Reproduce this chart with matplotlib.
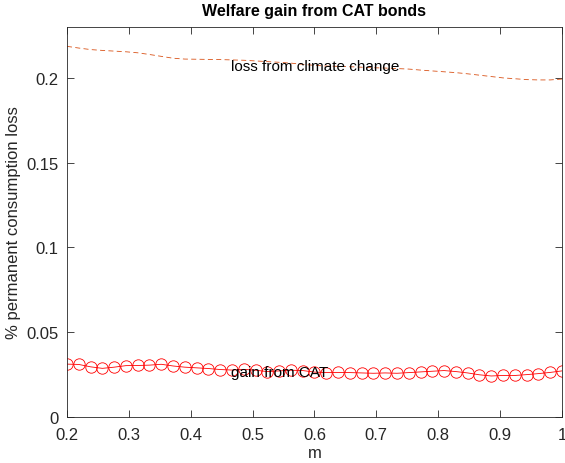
import numpy as np
import matplotlib.pyplot as plt

plt.rcParams['font.family'] = ['Liberation Sans', 'DejaVu Sans']

m = np.linspace(0.2, 1.0, 43)

gain = [0.0312, 0.0310, 0.0296, 0.0287, 0.0294, 0.0303, 0.0304, 0.0306, 0.0311,
        0.0301, 0.0294, 0.0290, 0.0286, 0.0280, 0.0277, 0.0281, 0.0276, 0.0268,
        0.0272, 0.0276, 0.0274, 0.0265, 0.0262, 0.0263, 0.0262, 0.0260, 0.0258,
        0.0260, 0.0258, 0.0262, 0.0266, 0.0270, 0.0274, 0.0268, 0.0260, 0.0249,
        0.0242, 0.0245, 0.0245, 0.0250, 0.0256, 0.0263, 0.0272]

loss = [0.2186, 0.2176, 0.2167, 0.2162, 0.2158, 0.2154, 0.2148, 0.2138, 0.2127,
        0.2116, 0.2111, 0.2110, 0.2109, 0.2108, 0.2106, 0.2104, 0.2100, 0.2096,
        0.2092, 0.2087, 0.2080, 0.2074, 0.2070, 0.2068, 0.2066, 0.2063, 0.2060,
        0.2058, 0.2055, 0.2052, 0.2046, 0.2041, 0.2036, 0.2031, 0.2024, 0.2016,
        0.2008, 0.2000, 0.1995, 0.1990, 0.1988, 0.1988, 0.1993]

xticks = [0.2, 0.3, 0.4, 0.5, 0.6, 0.7, 0.8, 0.9, 1.0]
xticklabels = ['0.2', '0.3', '0.4', '0.5', '0.6', '0.7', '0.8', '0.9', '1']
yticks = [0, 0.05, 0.1, 0.15, 0.2]
yticklabels = ['0', '0.05', '0.1', '0.15', '0.2']

grey = '#262626'

fig = plt.figure(figsize=(5.65, 4.64), dpi=100)
ax = fig.add_axes([0.1186, 0.0991, 0.876, 0.8405])

ax.plot(m, loss, '--', color='#D95319', lw=0.6, dashes=(6, 4))
ax.plot(m, gain, '-o', color='red', lw=0.6, markersize=8.2,
        markerfacecolor='none', markeredgewidth=0.6)

ax.text(0.465, 0.207, 'loss from climate change', fontsize=11,
        va='center', ha='left', color='black')
ax.text(0.465, 0.0265, 'gain from CAT', fontsize=11,
        va='center', ha='left', color='black')

ax.set_xlim(0.2, 1.0)
ax.set_ylim(0, 0.23)
ax.set_xticks(xticks)
ax.set_xticklabels(xticklabels)
ax.set_yticks(yticks)
ax.set_yticklabels(yticklabels)
ax.tick_params(direction='in', top=True, right=True, labelsize=12,
               colors=grey, length=5, width=0.6)
ax.tick_params(axis='x', pad=7)
ax.tick_params(axis='y', pad=6)
for s in ax.spines.values():
    s.set_color(grey)
    s.set_linewidth(0.6)

ax.set_xlabel('m', fontsize=12, color=grey, labelpad=2)
ax.set_ylabel('% permanent consumption loss', fontsize=12, color=grey,
              labelpad=4)
ax.set_title('Welfare gain from CAT bonds', fontsize=11.5, fontweight='bold',
             color='black', pad=9)

fig.savefig('out.png', dpi=100)
